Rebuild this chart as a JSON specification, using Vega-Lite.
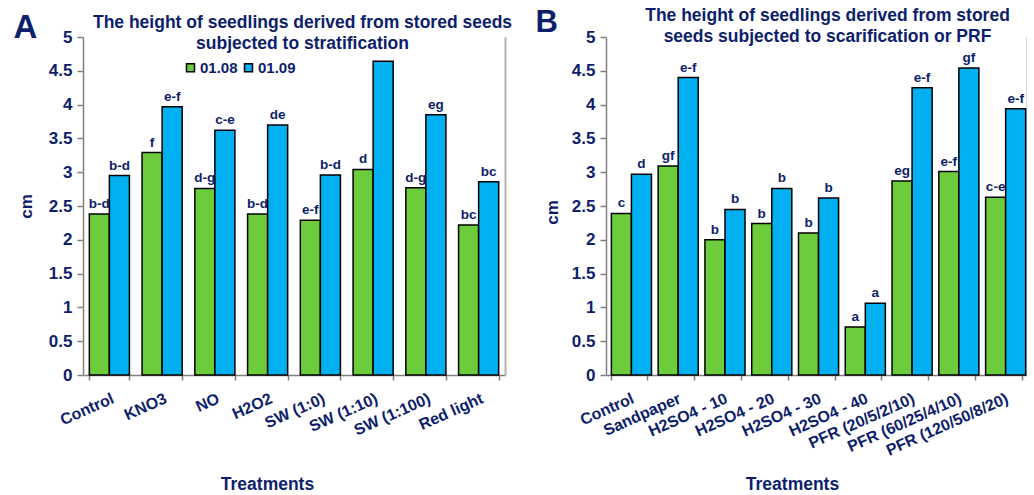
{
  "$schema": "https://vega.github.io/schema/vega-lite/v6.json",
  "background": "white",
  "padding": {"left": 13, "top": 6, "right": 0, "bottom": 0},
  "spacing": 23,
  "config": {"view": {"stroke": null}, "font": "Liberation Sans", "axis": {"grid": false}},
  "datasets": {
    "a": [
      {"treatment": "Control", "series": "01.08", "value": 2.38, "label": "b-d"},
      {"treatment": "Control", "series": "01.09", "value": 2.95, "label": "b-d"},
      {"treatment": "KNO3", "series": "01.08", "value": 3.29, "label": "f"},
      {"treatment": "KNO3", "series": "01.09", "value": 3.97, "label": "e-f"},
      {"treatment": "NO", "series": "01.08", "value": 2.76, "label": "d-g"},
      {"treatment": "NO", "series": "01.09", "value": 3.62, "label": "c-e"},
      {"treatment": "H2O2", "series": "01.08", "value": 2.38, "label": "b-d"},
      {"treatment": "H2O2", "series": "01.09", "value": 3.70, "label": "de"},
      {"treatment": "SW (1:0)", "series": "01.08", "value": 2.29, "label": "e-f"},
      {"treatment": "SW (1:0)", "series": "01.09", "value": 2.96, "label": "b-d"},
      {"treatment": "SW (1:10)", "series": "01.08", "value": 3.04, "label": "d"},
      {"treatment": "SW (1:10)", "series": "01.09", "value": 4.64, "label": ""},
      {"treatment": "SW (1:100)", "series": "01.08", "value": 2.77, "label": "d-g"},
      {"treatment": "SW (1:100)", "series": "01.09", "value": 3.85, "label": "eg"},
      {"treatment": "Red light", "series": "01.08", "value": 2.22, "label": "bc"},
      {"treatment": "Red light", "series": "01.09", "value": 2.86, "label": "bc"}
    ],
    "b": [
      {"treatment": "Control", "series": "01.08", "value": 2.39, "label": "c"},
      {"treatment": "Control", "series": "01.09", "value": 2.97, "label": "d"},
      {"treatment": "Sandpaper", "series": "01.08", "value": 3.09, "label": "gf"},
      {"treatment": "Sandpaper", "series": "01.09", "value": 4.40, "label": "e-f"},
      {"treatment": "H2SO4 - 10", "series": "01.08", "value": 2.00, "label": "b"},
      {"treatment": "H2SO4 - 10", "series": "01.09", "value": 2.45, "label": "b"},
      {"treatment": "H2SO4 - 20", "series": "01.08", "value": 2.24, "label": "b"},
      {"treatment": "H2SO4 - 20", "series": "01.09", "value": 2.76, "label": "b"},
      {"treatment": "H2SO4 - 30", "series": "01.08", "value": 2.10, "label": "b"},
      {"treatment": "H2SO4 - 30", "series": "01.09", "value": 2.62, "label": "b"},
      {"treatment": "H2SO4 - 40", "series": "01.08", "value": 0.71, "label": "a"},
      {"treatment": "H2SO4 - 40", "series": "01.09", "value": 1.06, "label": "a"},
      {"treatment": "PFR (20/5/2/10)", "series": "01.08", "value": 2.87, "label": "eg"},
      {"treatment": "PFR (20/5/2/10)", "series": "01.09", "value": 4.25, "label": "e-f"},
      {"treatment": "PFR (60/25/4/10)", "series": "01.08", "value": 3.01, "label": "e-f"},
      {"treatment": "PFR (60/25/4/10)", "series": "01.09", "value": 4.54, "label": "gf"},
      {"treatment": "PFR (120/50/8/20)", "series": "01.08", "value": 2.63, "label": "c-e"},
      {"treatment": "PFR (120/50/8/20)", "series": "01.09", "value": 3.94, "label": "e-f"}
    ]
  },
  "resolve": {"scale": {"color": "independent"}},
  "hconcat": [
    {
      "width": 422,
      "height": 338,
      "data": {"name": "a"},
      "resolve": {"axis": {"x": "independent", "y": "independent"}},
      "layer": [
        {
          "mark": {"type": "bar", "stroke": "black", "strokeWidth": 1.5},
          "encoding": {
            "x": {"field": "treatment", "type": "nominal", "sort": null,
              "scale": {"paddingInner": 0.24, "paddingOuter": 0.12},
              "axis": {"title": "Treatments", "titleFontSize": 17.5, "titleFontWeight": "bold", "titleColor": "#0d1e6b",
                "titleX": 184, "titleY": 100, "titleBaseline": "top", "titleAlign": "center",
                "labelAngle": -24, "labelAlign": "right", "labelBaseline": "top", "labelFontSize": 16, "labelFontWeight": "bold",
                "labelColor": "#0d1e6b", "labelPadding": 10, "tickBand": "extent", "tickSize": 5, "tickColor": "#808080",
                "domainColor": "#808080", "domainWidth": 1.5, "tickWidth": 1.5, "labelOverlap": false}},
            "xOffset": {"field": "series", "type": "nominal", "scale": {"paddingInner": 0, "paddingOuter": 0}},
            "y": {"field": "value", "type": "quantitative", "scale": {"domain": [0, 5], "nice": false},
              "axis": {"title": "cm", "titleFontSize": 17, "titleFontWeight": "bold", "titleColor": "#0d1e6b",
                "titleX": -57, "titleY": 169, "titleAngle": -90, "titleAlign": "center", "titleBaseline": "middle",
                "values": [0, 0.5, 1, 1.5, 2, 2.5, 3, 3.5, 4, 4.5, 5], "format": "~g",
                "labelFontSize": 17, "labelFontWeight": "bold", "labelColor": "#0d1e6b", "labelPadding": 5,
                "tickSize": 6, "tickColor": "#808080", "tickWidth": 1.5, "domainColor": "#808080", "domainWidth": 1.5}},
            "color": {"field": "series", "type": "nominal",
              "scale": {"domain": ["01.08", "01.09"], "range": ["#6dcc3b", "#00b0f0"]},
              "legend": {"title": null, "orient": "none", "legendX": 100, "legendY": 23, "direction": "horizontal",
                "symbolType": "square", "symbolSize": 64, "symbolStrokeColor": "black", "symbolStrokeWidth": 1.5,
                "labelFontSize": 15, "labelFontWeight": "bold", "labelColor": "#0d1e6b", "labelOffset": 2, "columnPadding": 3}}
          }
        },
        {
          "mark": {"type": "text", "baseline": "bottom", "dy": -3, "fontSize": 13.5, "fontWeight": "bold", "color": "#0d1e6b"},
          "encoding": {
            "x": {"field": "treatment", "type": "nominal", "sort": null,
              "axis": {"orient": "top", "labels": false, "ticks": false, "domain": false,
                "title": ["The height of seedlings derived from stored seeds", "subjected to stratification"],
                "titleFontSize": 17.5, "titleFontWeight": "bold", "titleColor": "#0d1e6b", "titleLineHeight": 21,
                "titleX": 219, "titleY": -24, "titleAlign": "center", "titleBaseline": "top"}},
            "xOffset": {"field": "series", "type": "nominal"},
            "y": {"field": "value", "type": "quantitative",
              "axis": {"orient": "right", "labels": false, "ticks": false, "domainColor": "#b0b0b0", "domainWidth": 2,
                "title": "A", "titleAngle": 0, "titleX": -492, "titleY": 0, "titleAlign": "left", "titleBaseline": "alphabetic",
                "titleFontSize": 33, "titleFontWeight": "bold", "titleColor": "#0d1e6b"}},
            "text": {"field": "label"}
          }
        }
      ]
    },
    {
      "width": 421,
      "height": 338,
      "data": {"name": "b"},
      "resolve": {"axis": {"x": "independent", "y": "independent"}},
      "layer": [
        {
          "mark": {"type": "bar", "stroke": "black", "strokeWidth": 1.5},
          "encoding": {
            "x": {"field": "treatment", "type": "nominal", "sort": null,
              "scale": {"paddingInner": 0.23, "paddingOuter": 0.115},
              "axis": {"title": "Treatments", "titleFontSize": 17.5, "titleFontWeight": "bold", "titleColor": "#0d1e6b",
                "titleX": 186, "titleY": 100, "titleBaseline": "top", "titleAlign": "center",
                "labelAngle": -24, "labelAlign": "right", "labelBaseline": "top", "labelFontSize": 16, "labelFontWeight": "bold",
                "labelColor": "#0d1e6b", "labelPadding": 10, "tickBand": "extent", "tickSize": 5, "tickColor": "#808080",
                "domainColor": "#808080", "domainWidth": 1.5, "tickWidth": 1.5, "labelOverlap": false}},
            "xOffset": {"field": "series", "type": "nominal", "scale": {"paddingInner": 0, "paddingOuter": 0}},
            "y": {"field": "value", "type": "quantitative", "scale": {"domain": [0, 5], "nice": false},
              "axis": {"title": "cm", "titleFontSize": 17, "titleFontWeight": "bold", "titleColor": "#0d1e6b",
                "titleX": -54, "titleY": 175, "titleAngle": -90, "titleAlign": "center", "titleBaseline": "middle",
                "values": [0, 0.5, 1, 1.5, 2, 2.5, 3, 3.5, 4, 4.5, 5], "format": "~g",
                "labelFontSize": 17, "labelFontWeight": "bold", "labelColor": "#0d1e6b", "labelPadding": 5,
                "tickSize": 6, "tickColor": "#808080", "tickWidth": 1.5, "domainColor": "#808080", "domainWidth": 1.5}},
            "color": {"field": "series", "type": "nominal",
              "scale": {"domain": ["01.08", "01.09"], "range": ["#6dcc3b", "#00b0f0"]}, "legend": null}
          }
        },
        {
          "mark": {"type": "text", "baseline": "bottom", "dy": -3, "fontSize": 13.5, "fontWeight": "bold", "color": "#0d1e6b"},
          "encoding": {
            "x": {"field": "treatment", "type": "nominal", "sort": null,
              "axis": {"orient": "top", "labels": false, "ticks": false, "domain": false,
                "title": ["The height of seedlings derived from stored", "seeds subjected to scarification  or PRF"],
                "titleFontSize": 17.5, "titleFontWeight": "bold", "titleColor": "#0d1e6b", "titleLineHeight": 21,
                "titleX": 221, "titleY": -31, "titleAlign": "center", "titleBaseline": "top"}},
            "xOffset": {"field": "series", "type": "nominal"},
            "y": {"field": "value", "type": "quantitative",
              "axis": {"orient": "right", "labels": false, "ticks": false, "domainColor": "#b0b0b0", "domainWidth": 2,
                "title": "B", "titleAngle": 0, "titleX": -492, "titleY": -6, "titleAlign": "left", "titleBaseline": "alphabetic",
                "titleFontSize": 31, "titleFontWeight": "bold", "titleColor": "#0d1e6b"}},
            "text": {"field": "label"}
          }
        }
      ]
    }
  ]
}
